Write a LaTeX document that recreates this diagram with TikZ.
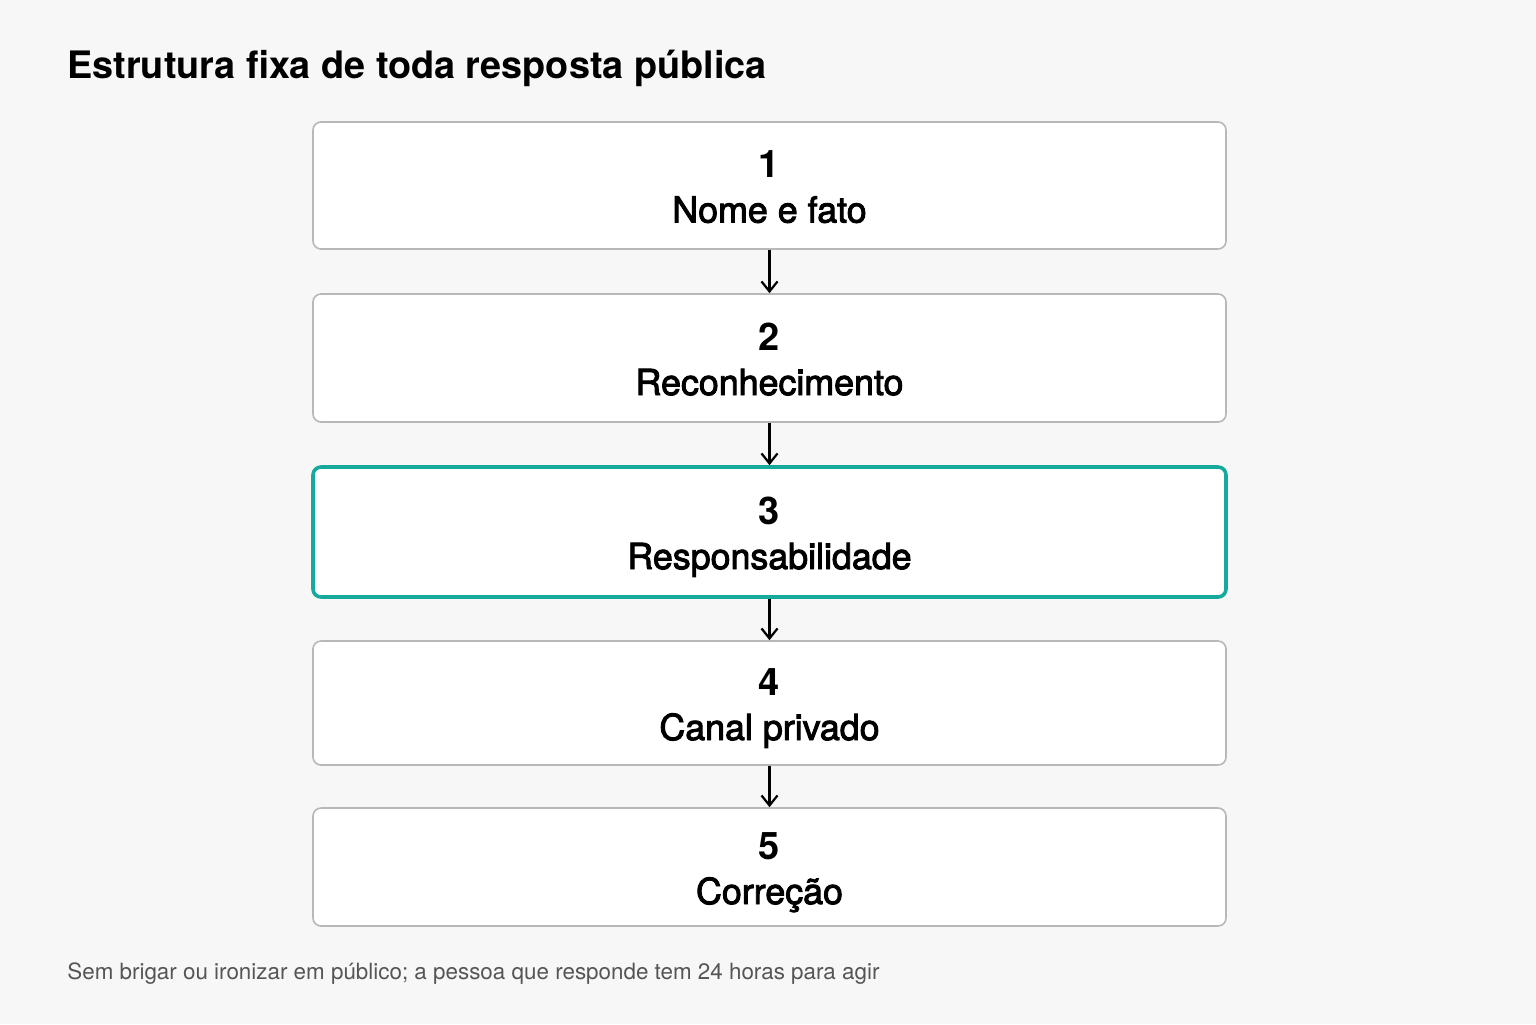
\documentclass[tikz,border=0pt]{standalone}
\usepackage{fontspec}
\setmainfont{TeX Gyre Heros}
\newfontfamily\labelfont[FakeBold=2.6]{TeX Gyre Heros}
\usetikzlibrary{arrows.meta,calc}
\definecolor{pagebg}{HTML}{F7F7F7}
\definecolor{boxline}{HTML}{B8B8B8}
\definecolor{stepteal}{HTML}{17A99C}
\definecolor{notegray}{HTML}{555555}

\begin{document}
\begin{tikzpicture}[x=0.5pt, y=-0.5pt,
    stepbox/.style={draw=boxline, line width=0.8pt, fill=white, rounded corners=4pt, minimum width=456.5pt, inner sep=0pt},
    keybox/.style={stepbox, draw=stepteal, line width=1.8pt},
    stepnum/.style={anchor=base, font=\bfseries\fontsize{19}{19}\selectfont},
    steplabel/.style={anchor=base, font=\labelfont\fontsize{17.9}{17.9}\selectfont},
    flow/.style={-{Straight Barb[length=5pt, width=8pt]}, line width=1.1pt}]
\useasboundingbox[fill=pagebg] (0,0) rectangle (1536,1024);
\node[anchor=base west, inner sep=0pt, font=\bfseries\fontsize{18.9}{18.9}\selectfont] (title) at (67,78) {Estrutura fixa de toda resposta pública};
% the five steps
\node[stepbox, minimum height=63.5pt] (s1) at (769.5,185.5) {};
\node[stepbox, minimum height=64pt] (s2) at (769.5,358) {};
\node[keybox, minimum height=65pt] (s3) at (769.5,532) {};
\node[stepbox, minimum height=62pt] (s4) at (769.5,703) {};
\node[stepbox, minimum height=59pt] (s5) at (769.5,867) {};
\node[stepnum] (n1) at ($(s1.center)+(0,-8)$) {1};
\node[steplabel] (l1) at ($(s1.center)+(0,37)$) {Nome e fato};
\node[stepnum] (n2) at ($(s2.center)+(0,-8)$) {2};
\node[steplabel] (l2) at ($(s2.center)+(0,37)$) {Reconhecimento};
\node[stepnum] (n3) at ($(s3.center)+(0,-8)$) {3};
\node[steplabel] (l3) at ($(s3.center)+(0,37)$) {Responsabilidade};
\node[stepnum] (n4) at ($(s4.center)+(0,-8)$) {4};
\node[steplabel] (l4) at ($(s4.center)+(0,37)$) {Canal privado};
\node[stepnum] (n5) at ($(s5.center)+(0,-8)$) {5};
\node[steplabel] (l5) at ($(s5.center)+(0,37)$) {Correção};
\draw[flow] (s1) -- (s2);
\draw[flow] (s2) -- (s3);
\draw[flow] (s3) -- (s4);
\draw[flow] (s4) -- (s5);
\node[anchor=base west, inner sep=0pt, text=notegray, font=\fontsize{11.2}{11.2}\selectfont] (note) at (67,979) {Sem brigar ou ironizar em público; a pessoa que responde tem 24 horas para agir};
\end{tikzpicture}
\end{document}
